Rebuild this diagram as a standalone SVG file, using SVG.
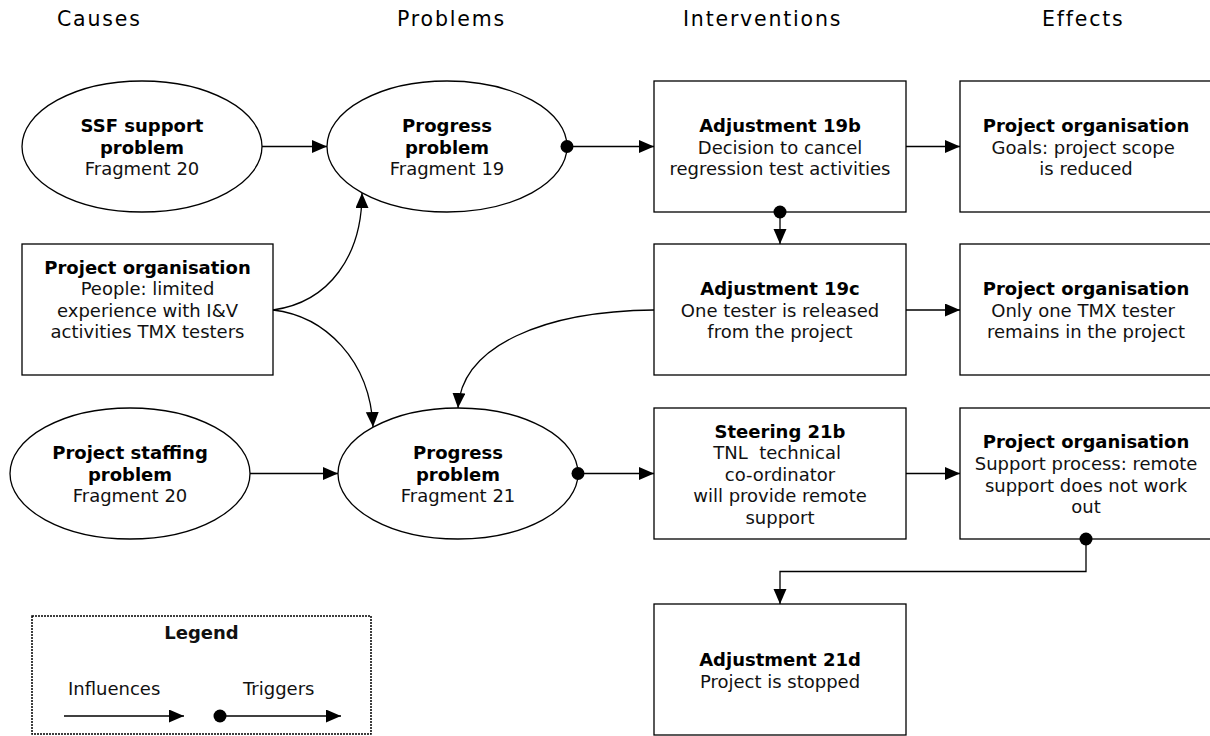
<svg xmlns="http://www.w3.org/2000/svg" width="1210" height="736" viewBox="0 0 1210 736">
  <style>
    .hdr { font-family: "DejaVu Sans", Verdana, sans-serif; font-size: 20.5px; fill: #000; letter-spacing: 1.8px; }
    .node { fill: #fff; stroke: #000; stroke-width: 1.3; }
    .b { font-family: "DejaVu Sans", Verdana, sans-serif; font-size: 18px; font-weight: bold; fill: #000; text-anchor: middle; }
    .r { font-family: "DejaVu Sans", Verdana, sans-serif; font-size: 18px; fill: #111; text-anchor: middle; }
    .edge { fill: none; stroke: #000; stroke-width: 1.3; }
    .lg { font-family: "DejaVu Sans", Verdana, sans-serif; font-size: 18px; fill: #111; }
  </style>
  <defs>
    <marker id="arrow" markerUnits="userSpaceOnUse" markerWidth="16" markerHeight="14" refX="15" refY="6.5" orient="auto">
      <path d="M0,0 L15,6.5 L0,13 z" fill="#000"/>
    </marker>
    <marker id="dot" markerUnits="userSpaceOnUse" markerWidth="14" markerHeight="14" refX="7" refY="7" orient="auto">
      <circle cx="7" cy="7" r="6.5" fill="#000"/>
    </marker>
  </defs>

  <rect width="1210" height="736" fill="#fff"/>

  <!-- column headings -->
  <g id="headings">
    <text class="hdr" x="57" y="26">Causes</text>
    <text class="hdr" x="397" y="26">Problems</text>
    <text class="hdr" x="683" y="26">Interventions</text>
    <text class="hdr" x="1042" y="26">Effects</text>
  </g>

  <!-- causes -->
  <g id="ssf-support">
    <ellipse class="node" cx="142" cy="146.5" rx="120" ry="65.5"/>
    <text class="b" x="142" y="132.1">SSF support</text>
    <text class="b" x="142" y="153.7">problem</text>
    <text class="r" x="142" y="175.3">Fragment 20</text>
  </g>
  <g id="org-people">
    <rect class="node" x="22" y="244" width="251" height="131"/>
    <text class="b" x="147.5" y="273.5">Project organisation</text>
    <text class="r" x="147.5" y="295.1">People: limited</text>
    <text class="r" x="147.5" y="316.7">experience with I&amp;V</text>
    <text class="r" x="147.5" y="338.3">activities TMX testers</text>
  </g>
  <g id="staffing">
    <ellipse class="node" cx="130" cy="473.5" rx="120" ry="65.5"/>
    <text class="b" x="130" y="459.1">Project staffing</text>
    <text class="b" x="130" y="480.7">problem</text>
    <text class="r" x="130" y="502.3">Fragment 20</text>
  </g>

  <!-- problems -->
  <g id="progress-19">
    <ellipse class="node" cx="447" cy="146.5" rx="120" ry="65.5"/>
    <text class="b" x="447" y="132.1">Progress</text>
    <text class="b" x="447" y="153.7">problem</text>
    <text class="r" x="447" y="175.3">Fragment 19</text>
  </g>
  <g id="progress-21">
    <ellipse class="node" cx="458" cy="473.5" rx="120" ry="65.5"/>
    <text class="b" x="458" y="459.1">Progress</text>
    <text class="b" x="458" y="480.7">problem</text>
    <text class="r" x="458" y="502.3">Fragment 21</text>
  </g>

  <!-- interventions -->
  <g id="adjustment-19b">
    <rect class="node" x="654" y="81" width="252" height="131"/>
    <text class="b" x="780" y="132.1">Adjustment 19b</text>
    <text class="r" x="780" y="153.7">Decision to cancel</text>
    <text class="r" x="780" y="175.3">regression test activities</text>
  </g>
  <g id="adjustment-19c">
    <rect class="node" x="654" y="244" width="252" height="131"/>
    <text class="b" x="780" y="295.1">Adjustment 19c</text>
    <text class="r" x="780" y="316.7">One tester is released</text>
    <text class="r" x="780" y="338.3">from the project</text>
  </g>
  <g id="steering-21b">
    <rect class="node" x="654" y="408" width="252" height="131"/>
    <text class="b" x="780" y="437.5">Steering 21b</text>
    <text class="r" x="780" y="459.1" style="white-space:pre">TNL  technical </text>
    <text class="r" x="780" y="480.7">co-ordinator</text>
    <text class="r" x="780" y="502.3">will provide remote</text>
    <text class="r" x="780" y="523.9">support</text>
  </g>
  <g id="adjustment-21d">
    <rect class="node" x="654" y="604" width="252" height="131"/>
    <text class="b" x="780" y="666.3">Adjustment 21d</text>
    <text class="r" x="780" y="687.9">Project is stopped</text>
  </g>

  <!-- effects (boxes run past the right edge of the page) -->
  <g id="effect-goals">
    <rect class="node" x="960" y="81" width="252" height="131"/>
    <text class="b" x="1086" y="132.1">Project organisation</text>
    <text class="r" x="1086" y="153.7" style="white-space:pre">Goals: project scope </text>
    <text class="r" x="1086" y="175.3">is reduced</text>
  </g>
  <g id="effect-tester">
    <rect class="node" x="960" y="244" width="252" height="131"/>
    <text class="b" x="1086" y="295.1">Project organisation</text>
    <text class="r" x="1086" y="316.7" style="white-space:pre">Only one TMX tester </text>
    <text class="r" x="1086" y="338.3">remains in the project</text>
  </g>
  <g id="effect-support">
    <rect class="node" x="960" y="408" width="252" height="131"/>
    <text class="b" x="1086" y="448.3">Project organisation</text>
    <text class="r" x="1086" y="469.9">Support process: remote</text>
    <text class="r" x="1086" y="491.5">support does not work</text>
    <text class="r" x="1086" y="513.1">out</text>
  </g>

  <!-- connectors: drawn over the nodes so trigger dots show whole -->
  <g id="connectors">
    <path class="edge" d="M262,146.5 H327" marker-end="url(#arrow)"/>
    <path class="edge" d="M567,146.5 H654" marker-start="url(#dot)" marker-end="url(#arrow)"/>
    <path class="edge" d="M906,146.5 H960" marker-end="url(#arrow)"/>
    <path class="edge" d="M780,212 V244" marker-start="url(#dot)" marker-end="url(#arrow)"/>
    <path class="edge" d="M906,310 H960" marker-end="url(#arrow)"/>
    <path class="edge" d="M654,310 C545,311 462,345 458,408" marker-end="url(#arrow)"/>
    <path class="edge" d="M273,310 C330,302 362,255 362,193" marker-end="url(#arrow)"/>
    <path class="edge" d="M273,310 C325,316 370,360 373,427" marker-end="url(#arrow)"/>
    <path class="edge" d="M250,473.5 H338" marker-end="url(#arrow)"/>
    <path class="edge" d="M578,473.5 H654" marker-start="url(#dot)" marker-end="url(#arrow)"/>
    <path class="edge" d="M906,473.5 H960" marker-end="url(#arrow)"/>
    <path class="edge" d="M1086,539 V571.5 H780 V604" marker-start="url(#dot)" marker-end="url(#arrow)"/>
  </g>

  <!-- legend -->
  <g id="legend">
    <rect x="32" y="616" width="339" height="118" fill="#fff" stroke="#000" stroke-width="1.5" stroke-dasharray="2,1"/>
    <text class="lg" x="201.5" y="639" text-anchor="middle" font-weight="bold" fill="#000">Legend</text>
    <text class="lg" x="68" y="695">Influences</text>
    <text class="lg" x="243" y="695">Triggers</text>
    <path class="edge" d="M64,716 H184" marker-end="url(#arrow)"/>
    <path class="edge" d="M220,716 H341" marker-start="url(#dot)" marker-end="url(#arrow)"/>
  </g>
</svg>
